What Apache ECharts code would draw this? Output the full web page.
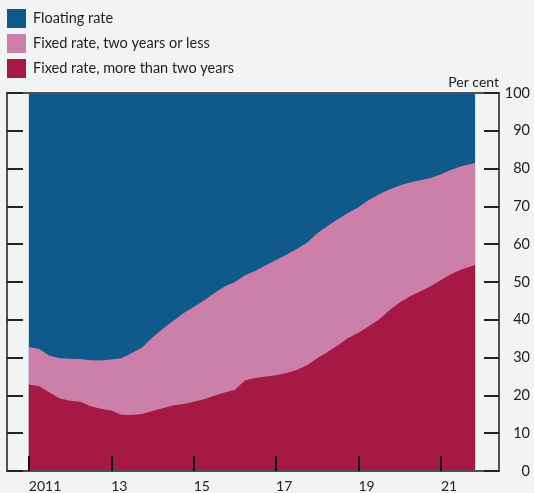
<!DOCTYPE html>
<html>
<head>
<meta charset="utf-8">
<script src="https://cdn.jsdelivr.net/npm/echarts@6/dist/echarts.min.js"></script>
<style>
  html, body { margin: 0; padding: 0; background: #f2f4f3; }
  #chart { width: 534px; height: 493px; }
</style>
</head>
<body>
<div id="chart"></div>
<script>
// Quarterly observations (decimal years), shares of mortgage stock in per cent
const periods = [
  2011.00, 2011.25, 2011.50, 2011.75, 2012.00, 2012.25, 2012.50, 2012.75,
  2013.00, 2013.25, 2013.50, 2013.75, 2014.00, 2014.25, 2014.50, 2014.75,
  2015.00, 2015.25, 2015.50, 2015.75, 2016.00, 2016.25, 2016.50, 2016.75,
  2017.00, 2017.25, 2017.50, 2017.75, 2018.00, 2018.25, 2018.50, 2018.75,
  2019.00, 2019.25, 2019.50, 2019.75, 2020.00, 2020.25, 2020.50, 2020.75,
  2021.00, 2021.25, 2021.50, 2021.83
];
const fixedLong = [
  22.9, 22.4, 20.8, 19.2, 18.6, 18.3, 17.1, 16.5,
  16.0, 14.9, 14.8, 15.1, 15.9, 16.6, 17.3, 17.7,
  18.3, 19.0, 19.9, 20.8, 21.5, 24.0, 24.6, 25.0,
  25.3, 25.9, 26.7, 28.0, 29.8, 31.5, 33.3, 35.2,
  36.6, 38.3, 40.1, 42.5, 44.6, 46.2, 47.5, 48.9,
  50.5, 52.1, 53.3, 54.5
];
const fixedShort = [
  9.9, 9.9, 9.7, 10.6, 11.1, 11.3, 12.2, 12.7,
  13.5, 14.9, 16.4, 17.6, 19.4, 21.0, 22.4, 24.0,
  25.1, 26.1, 27.1, 28.0, 28.5, 27.8, 28.4, 29.4,
  30.5, 31.3, 32.0, 32.4, 33.1, 33.3, 33.3, 33.1,
  33.2, 33.4, 33.1, 32.0, 30.9, 30.1, 29.4, 28.6,
  28.0, 27.6, 27.3, 27.0
];
const floating = [
  67.2, 67.7, 69.5, 70.2, 70.3, 70.4, 70.7, 70.8,
  70.5, 70.2, 68.8, 67.3, 64.7, 62.4, 60.3, 58.3,
  56.6, 54.9, 53.0, 51.2, 50.0, 48.2, 47.0, 45.6,
  44.2, 42.8, 41.3, 39.6, 37.1, 35.2, 33.4, 31.7,
  30.2, 28.3, 26.8, 25.5, 24.5, 23.7, 23.1, 22.5,
  21.5, 20.3, 19.4, 18.5
];
const xTickYears = [2011, 2013, 2015, 2017, 2019, 2021];
const seriesNames = ['Floating rate', 'Fixed rate, two years or less', 'Fixed rate, more than two years'];

const FONT = 'Lato, "Noto Sans", sans-serif';
const colors = { floating: '#0f5a8b', short: '#cc7fa8', long: '#a51944' };

// Cumulative tops of each band; bands are painted back to front
const topLong = fixedLong.slice();
const topShort = fixedShort.map((v, i) => v + topLong[i]);
const topFloating = floating.map((v, i) => v + topShort[i]);

const pairs = arr => arr.map((v, i) => [periods[i], v]);

function band(name, tops, color, z) {
  return {
    name: name,
    type: 'line',
    data: pairs(tops),
    symbol: 'none',
    showSymbol: false,
    lineStyle: { width: 0, color: color },
    areaStyle: { color: color, opacity: 1, origin: 'start' },
    itemStyle: { color: color },
    emphasis: { disabled: true },
    silent: true,
    clip: true,
    z: z
  };
}

const chart = echarts.init(document.getElementById('chart'), null, { renderer: 'canvas' });

chart.setOption({
  backgroundColor: '#f2f4f3',
  animation: false,
  textStyle: { fontFamily: FONT },
  legend: {
    orient: 'vertical',
    left: 7,
    top: 9,
    padding: 0,
    itemWidth: 19,
    itemHeight: 19,
    itemGap: 6,
    icon: 'rect',
    data: seriesNames,
    textStyle: { fontFamily: FONT, fontSize: 14.5, color: '#222', padding: [0, 0, 0, 2] },
    selectedMode: false
  },
  grid: {
    left: 7, right: 35, top: 93, bottom: 21,
    show: true,
    z: 10,
    borderColor: '#505050',
    borderWidth: 2,
    backgroundColor: 'transparent'
  },
  xAxis: {
    type: 'value',
    min: 2010.47,
    max: 2022.41,
    z: 11,
    axisLine: { show: false },
    splitLine: { show: false },
    axisTick: {
      show: true, inside: true, length: 15,
      customValues: xTickYears,
      lineStyle: { color: '#111', width: 2 }
    },
    axisLabel: {
      customValues: xTickYears,
      formatter: v => (v === 2011 ? '2011' : String(v).slice(2)),
      align: 'left',
      margin: 8,
      fontSize: 14,
      color: '#222',
      fontFamily: FONT
    }
  },
  yAxis: [
    {
      type: 'value',
      position: 'right',
      min: 0, max: 100, interval: 10,
      z: 11,
      axisLine: { show: false },
      splitLine: { show: false },
      axisTick: { show: true, inside: true, length: 15, lineStyle: { color: '#222', width: 2 } },
      axisLabel: { align: 'right', margin: 31, fontSize: 14.5, color: '#222', fontFamily: FONT }
    },
    {
      type: 'value',
      position: 'left',
      min: 0, max: 100, interval: 10,
      z: 11,
      axisLine: { show: false },
      splitLine: { show: false },
      axisTick: { show: true, inside: true, length: 16, lineStyle: { color: '#222', width: 2 } },
      axisLabel: { show: false }
    }
  ],
  graphic: [{
    type: 'text',
    right: 35,
    top: 75,
    style: { text: 'Per cent', fontSize: 14, fontFamily: FONT, fill: '#222' }
  }],
  series: [
    band(seriesNames[0], topFloating, colors.floating, 2),
    band(seriesNames[1], topShort, colors.short, 3),
    band(seriesNames[2], topLong, colors.long, 4)
  ]
});
</script>
</body>
</html>
